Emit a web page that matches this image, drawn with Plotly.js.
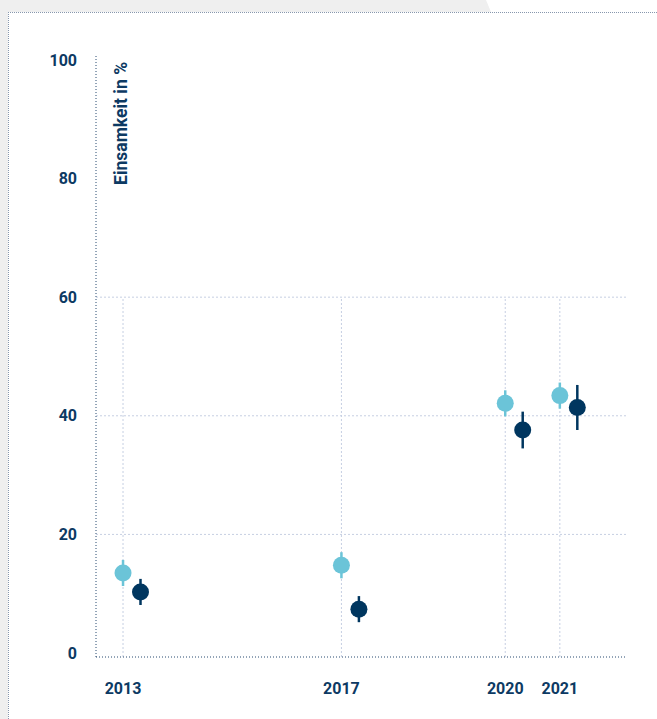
<!DOCTYPE html>
<html>
<head>
<meta charset="utf-8">
<script src="https://cdn.plot.ly/plotly-3.0.1.min.js"></script>
<style>
  html, body { margin: 0; padding: 0; background: #ffffff; }
  #page { position: relative; width: 657px; height: 719px; overflow: hidden; background: #ffffff; }
  #strip-left { position: absolute; left: 0; top: 0; width: 8px; height: 719px; background: #efefef; }
  #strip-top { position: absolute; left: 0; top: 0; width: 492px; height: 12px; background: #efefef;
               clip-path: polygon(0 0, 486px 0, 491px 12px, 0 12px); }
  #card { position: absolute; left: 8px; top: 12px; right: 0; bottom: 0; background: #ffffff;
          border-top: 1px dotted #8797ad; border-left: 1px dotted #8797ad; }
  #chart { position: absolute; left: 0; top: 0; width: 657px; height: 719px; }
</style>
</head>
<body>
<div id="page">
  <div id="strip-left"></div>
  <div id="strip-top"></div>
  <div id="card"></div>
  <div id="chart"></div>
</div>
<script>
// Survey years and tick labels
const years = [2013, 2017, 2020, 2021];
const yearLabels = ['2013', '2017', '2020', '2021'];

// Loneliness share (%) with error margins, two groups
const groupA = [13.5, 14.8, 42.1, 43.4];
const groupAErr = [2.2, 2.2, 2.2, 2.2];
const groupB = [10.3, 7.4, 37.6, 41.4];
const groupBErr = [2.2, 2.2, 3.1, 3.8];

// Y ticks
const yTicks = [0, 20, 40, 60, 80, 100];
const gridValues = [20, 40, 60];

const navy = '#0d3a63';
const light = '#6bc4d8';
const dark = '#00365f';
const gridColor = '#c6cfe2';

// second series is drawn slightly to the right of each year
const offsetB = 0.32;
const xB = years.map(y => y + offsetB);

const traces = [
  {
    type: 'scatter', mode: 'markers', x: years, y: groupA,
    marker: { size: 17, color: light },
    error_y: { type: 'data', array: groupAErr, visible: true, color: light, thickness: 2.5, width: 0 },
    hoverinfo: 'skip', showlegend: false
  },
  {
    type: 'scatter', mode: 'markers', x: xB, y: groupB,
    marker: { size: 17, color: dark },
    error_y: { type: 'data', array: groupBErr, visible: true, color: dark, thickness: 2.5, width: 0 },
    hoverinfo: 'skip', showlegend: false
  }
];

const yMin = -0.67, yMax = 101;
const shapes = [];
// horizontal grid lines (only up to 60)
gridValues.forEach(v => shapes.push({
  type: 'line', xref: 'paper', yref: 'y', x0: 0, x1: 1, y0: v, y1: v,
  line: { color: gridColor, width: 1, dash: '2px,2px' }, layer: 'below'
}));
// vertical grid lines at each survey year, from the axis up to 60
years.forEach(yr => shapes.push({
  type: 'line', xref: 'x', yref: 'y', x0: yr, x1: yr, y0: yMin, y1: 60,
  line: { color: gridColor, width: 1, dash: '2px,2px' }, layer: 'below'
}));
// dotted axis lines
shapes.push({
  type: 'line', xref: 'paper', yref: 'paper', x0: 0, x1: 0, y0: 0, y1: 1,
  line: { color: '#294b70', width: 1, dash: '1px,2px' }
});
shapes.push({
  type: 'line', xref: 'paper', yref: 'paper', x0: 0, x1: 1, y0: 0, y1: 0,
  line: { color: '#294b70', width: 1, dash: '1px,2px' }
});

const tickFont = { family: 'Roboto, Arial, sans-serif', size: 16, color: navy, weight: 700 };

const layout = {
  width: 657, height: 719,
  margin: { l: 96, r: 30, t: 54, b: 62 },
  paper_bgcolor: 'rgba(0,0,0,0)',
  plot_bgcolor: 'rgba(0,0,0,0)',
  xaxis: {
    type: 'linear', range: [2012.505, 2022.23],
    tickvals: years, ticktext: yearLabels,
    showgrid: false, zeroline: false, showline: false,
    ticks: '', ticklabelstandoff: 20,
    tickfont: tickFont
  },
  yaxis: {
    range: [yMin, yMax],
    tickvals: yTicks, ticktext: yTicks.map(String),
    showgrid: false, zeroline: false, showline: false,
    ticks: '', ticklabelstandoff: 18,
    tickfont: tickFont
  },
  shapes: shapes,
  annotations: [{
    text: 'Einsamkeit in %', textangle: -90,
    xref: 'paper', yref: 'paper', x: 0.046, y: 0.99,
    xanchor: 'center', yanchor: 'top', showarrow: false,
    font: { family: 'Roboto, Arial, sans-serif', size: 17.5, color: navy, weight: 700 }
  }]
};

Plotly.newPlot('chart', traces, layout, { displayModeBar: false, staticPlot: true });
</script>
</body>
</html>
